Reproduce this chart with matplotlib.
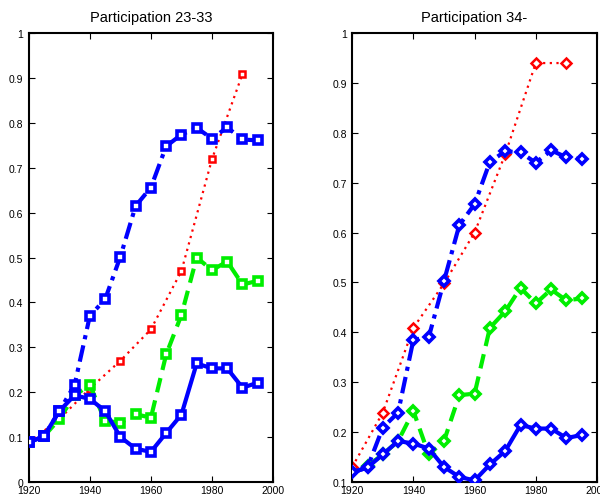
import numpy as np
import matplotlib
matplotlib.use('Agg')
from matplotlib import pyplot as plt

plt.rcParams['font.family'] = ['Liberation Sans', 'DejaVu Sans']

# participation rates by birth cohort, two age groups
years = [1920, 1925, 1930, 1935, 1940, 1945, 1950, 1955, 1960, 1965, 1970, 1975, 1980, 1985, 1990, 1995]
years_green = years[1:]
years_red = [1920, 1930, 1940, 1950, 1960, 1970, 1980, 1990]

# 23-33
a_solid = [0.088, 0.102, 0.158, 0.193, 0.185, 0.158, 0.100, 0.074, 0.067, 0.109, 0.150, 0.264, 0.253, 0.253, 0.210, 0.221]
a_dashdot = [0.088, 0.102, 0.158, 0.216, 0.370, 0.407, 0.502, 0.615, 0.656, 0.748, 0.774, 0.789, 0.765, 0.790, 0.763, 0.761]
a_green = [0.102, 0.140, 0.193, 0.216, 0.136, 0.132, 0.151, 0.143, 0.284, 0.372, 0.500, 0.472, 0.491, 0.440, 0.448]
a_red = [0.088, 0.140, 0.208, 0.270, 0.340, 0.470, 0.719, 0.909]

# 34-
b_solid = [0.119, 0.129, 0.155, 0.182, 0.177, 0.167, 0.130, 0.110, 0.103, 0.135, 0.162, 0.214, 0.207, 0.207, 0.188, 0.194]
b_dashdot = [0.119, 0.129, 0.209, 0.239, 0.385, 0.390, 0.503, 0.615, 0.657, 0.742, 0.763, 0.761, 0.740, 0.765, 0.751, 0.747]
b_green = [0.132, 0.155, 0.182, 0.242, 0.155, 0.182, 0.274, 0.277, 0.409, 0.442, 0.489, 0.458, 0.486, 0.464, 0.468]
b_red = [0.130, 0.239, 0.409, 0.498, 0.600, 0.757, 0.940, 0.940]

fig = plt.figure(figsize=(6.0, 5.02), dpi=100)
ax1 = fig.add_axes([0.048, 0.038, 0.407, 0.894])
ax2 = fig.add_axes([0.587, 0.038, 0.408, 0.894])


def draw(ax, solid, dashdot, green, red, mk, ylo, title):
    kw = dict(marker=mk, mfc='white')
    ax.plot(years_red, red, color='red', ls=(0, (1, 2)), lw=1.6, ms=5, mew=1.8, zorder=2, **kw)
    ax.plot(years_green, green, color='#00ee00', ls=(0, (3.5, 2)), lw=3, ms=5.5, mew=2.6, zorder=3, **kw)
    ax.plot(years, dashdot, color='blue', ls=(0, (4, 1.5, 1, 1.5)), lw=3, ms=5.5, mew=2.6, zorder=4, **kw)
    ax.plot(years, solid, color='blue', ls='-', lw=3, ms=5.5, mew=2.6, zorder=5, **kw)
    ax.set_xlim(1920, 2000)
    ax.set_ylim(ylo, 1)
    ax.set_xticks([1920, 1940, 1960, 1980, 2000])
    yt = np.round(np.arange(ylo, 1.0001, 0.1), 1)
    ax.set_yticks(yt)
    ax.set_yticklabels(['%g' % v for v in yt])
    ax.tick_params(direction='in', top=True, right=True, labelsize=7.5, length=4, width=0.8)
    ax.tick_params(axis='x', pad=2)
    ax.tick_params(axis='y', pad=4)
    for s in ax.spines.values():
        s.set_linewidth(1.5)
    ax.set_title(title, fontsize=10.5, pad=9)


draw(ax1, a_solid, a_dashdot, a_green, a_red, 's', 0.0, 'Participation 23-33')
draw(ax2, b_solid, b_dashdot, b_green, b_red, 'D', 0.1, 'Participation 34-')

fig.savefig('out.png', dpi=100)
